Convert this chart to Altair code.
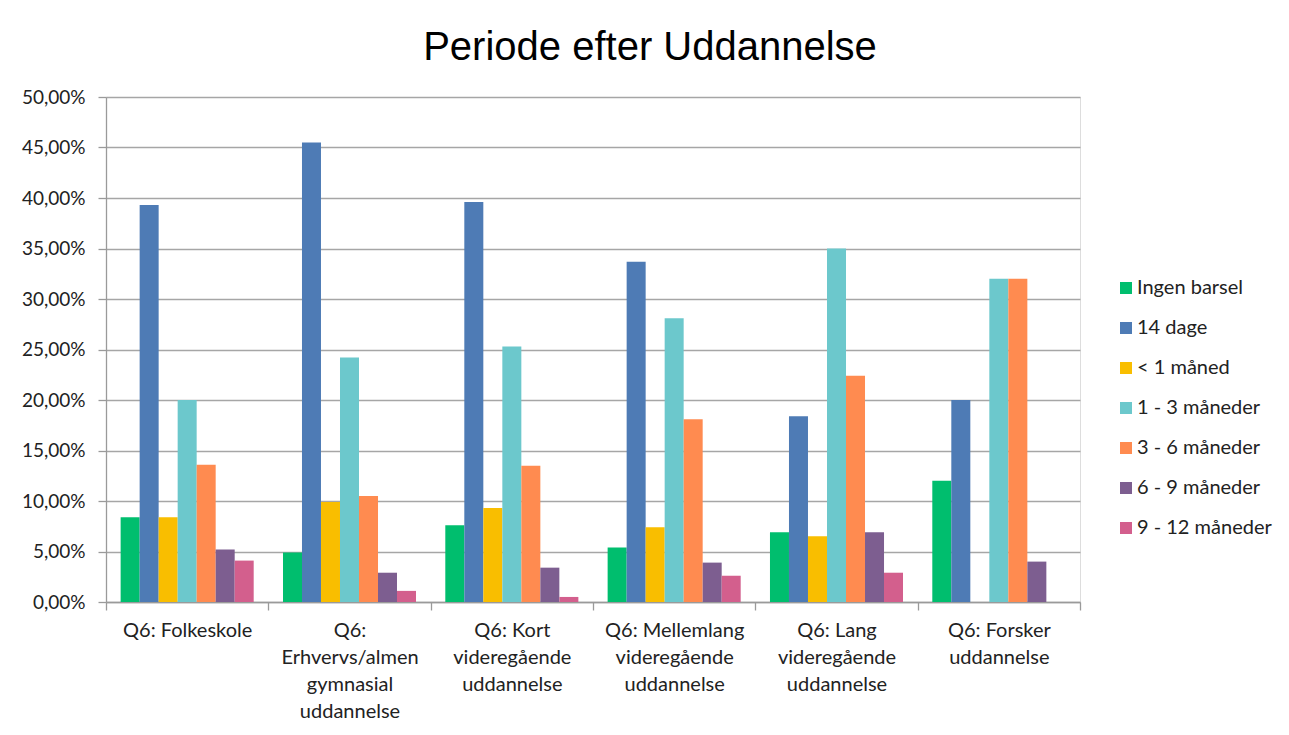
import altair as alt
import pandas as pd

categories = [
    "Q6: Folkeskole",
    "Q6:|Erhvervs/almen|gymnasial|uddannelse",
    "Q6: Kort|videregående|uddannelse",
    "Q6: Mellemlang|videregående|uddannelse",
    "Q6: Lang|videregående|uddannelse",
    "Q6: Forsker|uddannelse",
]
series = ["Ingen barsel", "14 dage", "< 1 måned", "1 - 3 måneder",
          "3 - 6 måneder", "6 - 9 måneder", "9 - 12 måneder"]
colors = ["#00BE6E", "#4E7BB5", "#F9BE00", "#6CC8CC", "#FF8B50", "#7D5E90", "#D35F8D"]

ingen_barsel = [8.4, 4.9, 7.6, 5.4, 6.9, 12.0]
dage_14 = [39.3, 45.5, 39.6, 33.7, 18.4, 20.0]
under_1_maaned = [8.4, 9.9, 9.3, 7.4, 6.5, 0.0]
maaneder_1_3 = [20.0, 24.2, 25.3, 28.1, 35.0, 32.0]
maaneder_3_6 = [13.6, 10.5, 13.5, 18.1, 22.4, 32.0]
maaneder_6_9 = [5.2, 2.9, 3.4, 3.9, 6.9, 4.0]
maaneder_9_12 = [4.1, 1.1, 0.5, 2.6, 2.9, 0.0]

y_ticks = [0, 5, 10, 15, 20, 25, 30, 35, 40, 45, 50]

all_values = [ingen_barsel, dage_14, under_1_maaned, maaneder_1_3,
              maaneder_3_6, maaneder_6_9, maaneder_9_12]
rows = []
for s, vals in zip(series, all_values):
    for c, v in zip(categories, vals):
        rows.append({"kategori": c, "serie": s, "andel": v})
df = pd.DataFrame(rows)

FONT = "Lato"

chart = alt.Chart(df).mark_bar().encode(
    x=alt.X("kategori:N", sort=categories,
            scale=alt.Scale(paddingInner=0, paddingOuter=0),
            axis=alt.Axis(title=None, labelAngle=0, tickBand="extent",
                          labelExpr="split(datum.label, '|')",
                          labelFont=FONT, labelFontSize=20, labelColor="#222222",
                          labelLineHeight=27, labelPadding=10,
                          tickSize=8, tickColor="#9a9a9a", tickWidth=1.3,
                          domainColor="#9a9a9a", domainWidth=1.3,
                          grid=False, labelLimit=300)),
    xOffset=alt.XOffset("serie:N", sort=series,
                        scale=alt.Scale(paddingInner=0, paddingOuter=0.77)),
    y=alt.Y("andel:Q", scale=alt.Scale(domain=[0, 50], nice=False),
            axis=alt.Axis(title=None, values=y_ticks,
                          labelExpr="replace(format(datum.value, '.2f'), '.', ',') + '%'",
                          labelFont=FONT, labelFontSize=19, labelColor="#222222",
                          labelPadding=13,
                          tickSize=8, tickColor="#9a9a9a", tickWidth=1.3,
                          domainColor="#9a9a9a", domainWidth=1.3,
                          grid=True, gridColor="#a6a6a6", gridWidth=1.3)),
    color=alt.Color("serie:N", sort=series,
                    scale=alt.Scale(domain=series, range=colors),
                    legend=alt.Legend(title=None, orient="none", legendX=1010, legendY=181,
                                      symbolType="square", symbolSize=144,
                                      symbolStrokeWidth=0, labelFont=FONT,
                                      labelFontSize=20, labelColor="#222222",
                                      rowPadding=20, labelOffset=1, padding=0,
                                      labelLimit=300)),
).properties(
    width=974,
    height=505,
    title=alt.TitleParams("Periode efter Uddannelse", font="Liberation Sans",
                          fontSize=40, fontWeight="normal", color="#000000",
                          anchor="middle", dx=57, dy=47, offset=35, baseline="alphabetic"),
    autosize=alt.AutoSizeParams(type="none"),
    padding={"left": 98, "top": 89, "right": 201, "bottom": 125},
).configure_view(stroke=None).configure(background="white")

chart.save("out.html", embed_options={"renderer": "svg", "actions": False})
